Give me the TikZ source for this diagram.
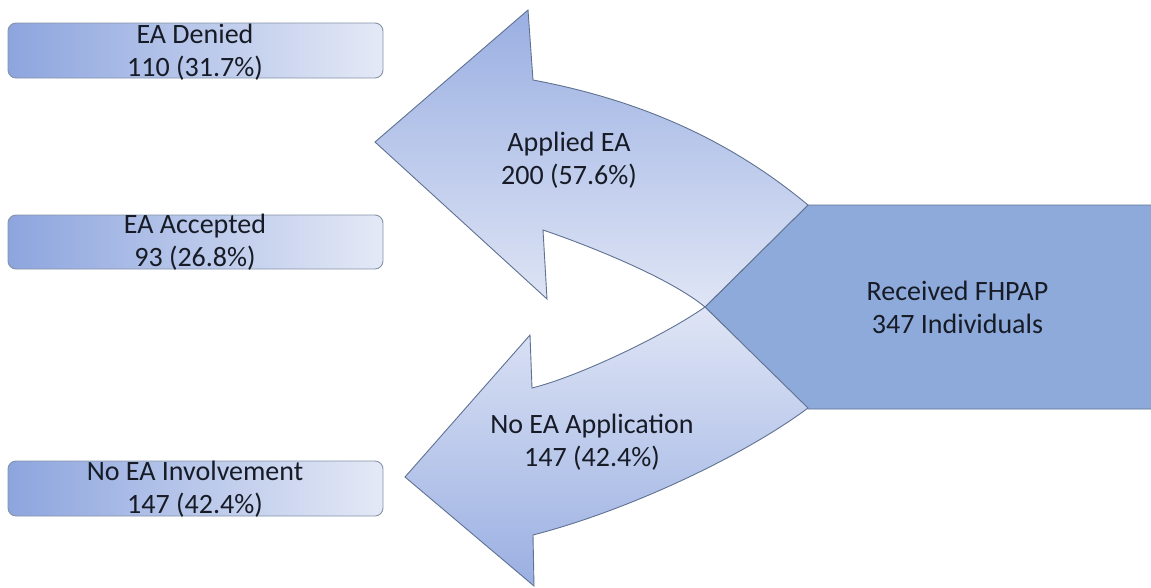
\documentclass[tikz,border=0pt]{standalone}
\usepackage{fontspec}
\setmainfont{Carlito}
\definecolor{boxL}{HTML}{8DA5DE}
\definecolor{boxR}{HTML}{E4E9F6}
\definecolor{arrDark}{HTML}{9AAFE2}
\definecolor{arrLight}{HTML}{DFE5F5}
\definecolor{mainfill}{HTML}{8EAADB}
\definecolor{edgec}{HTML}{5F7291}
\definecolor{boxedge}{HTML}{8592A8}
\definecolor{txt}{HTML}{161B26}
\begin{document}
\begin{tikzpicture}[x=1pt,y=-1pt,
  catbox/.style={draw=boxedge, line width=0.9pt, rounded corners=8pt,
    left color=boxL, right color=boxR, minimum width=375pt, inner sep=0pt},
  lbl/.style={font=\fontsize{28}{33}\selectfont, align=center, inner sep=0pt, text=txt},
  arrowshape/.style={draw=edgec, line width=0.9pt, line join=miter}]
\useasboundingbox (0,0) rectangle (1151,587);

% category boxes
\node[catbox, minimum height=55pt] (denied) at (195.5,50.5) {};
\node[catbox, minimum height=54pt] (accepted) at (195.5,242) {};
\node[catbox, minimum height=55pt] (noinv) at (195.5,488.5) {};

% main source shape
\path[draw=edgec, fill=mainfill, line width=0.9pt]
  (1160,205) -- (808,205) -- (705,307) -- (808,409) -- (1160,409) -- cycle;

% upper curved arrow (Applied EA)
\path[arrowshape, top color=arrDark, bottom color=arrLight]
  (808,205) .. controls (730,140) and (640,100) .. (533,80)
  -- (528,10) -- (375,142) -- (547,299) -- (543,230)
  .. controls (590,246) and (670,278) .. (705,307) -- cycle;

% lower curved arrow (No EA Application)
\path[arrowshape, top color=arrLight, bottom color=arrDark]
  (705,307) .. controls (665,335) and (580,376) .. (532,388)
  -- (530,335) -- (405,477) -- (534,586) -- (533,535)
  .. controls (630,510) and (745,455) .. (808,408) -- cycle;

% labels
\node[lbl] (tdenied) at (195,52.5) {EA Denied\\110 (31.7\%)};
\node[lbl] (taccepted) at (195,242) {EA Accepted\\93 (26.8\%)};
\node[lbl] (tnoinv) at (195,489.5) {No EA Involvement\\147 (42.4\%)};
\node[lbl] (tapplied) at (569,160.5) {Applied EA\\200 (57.6\%)};
\node[lbl] (tnoapp) at (592,442) {No EA Application\\147 (42.4\%)};
\node[lbl] (tmain) at (957.5,307) {Received FHPAP\\347 Individuals};
\end{tikzpicture}
\end{document}
